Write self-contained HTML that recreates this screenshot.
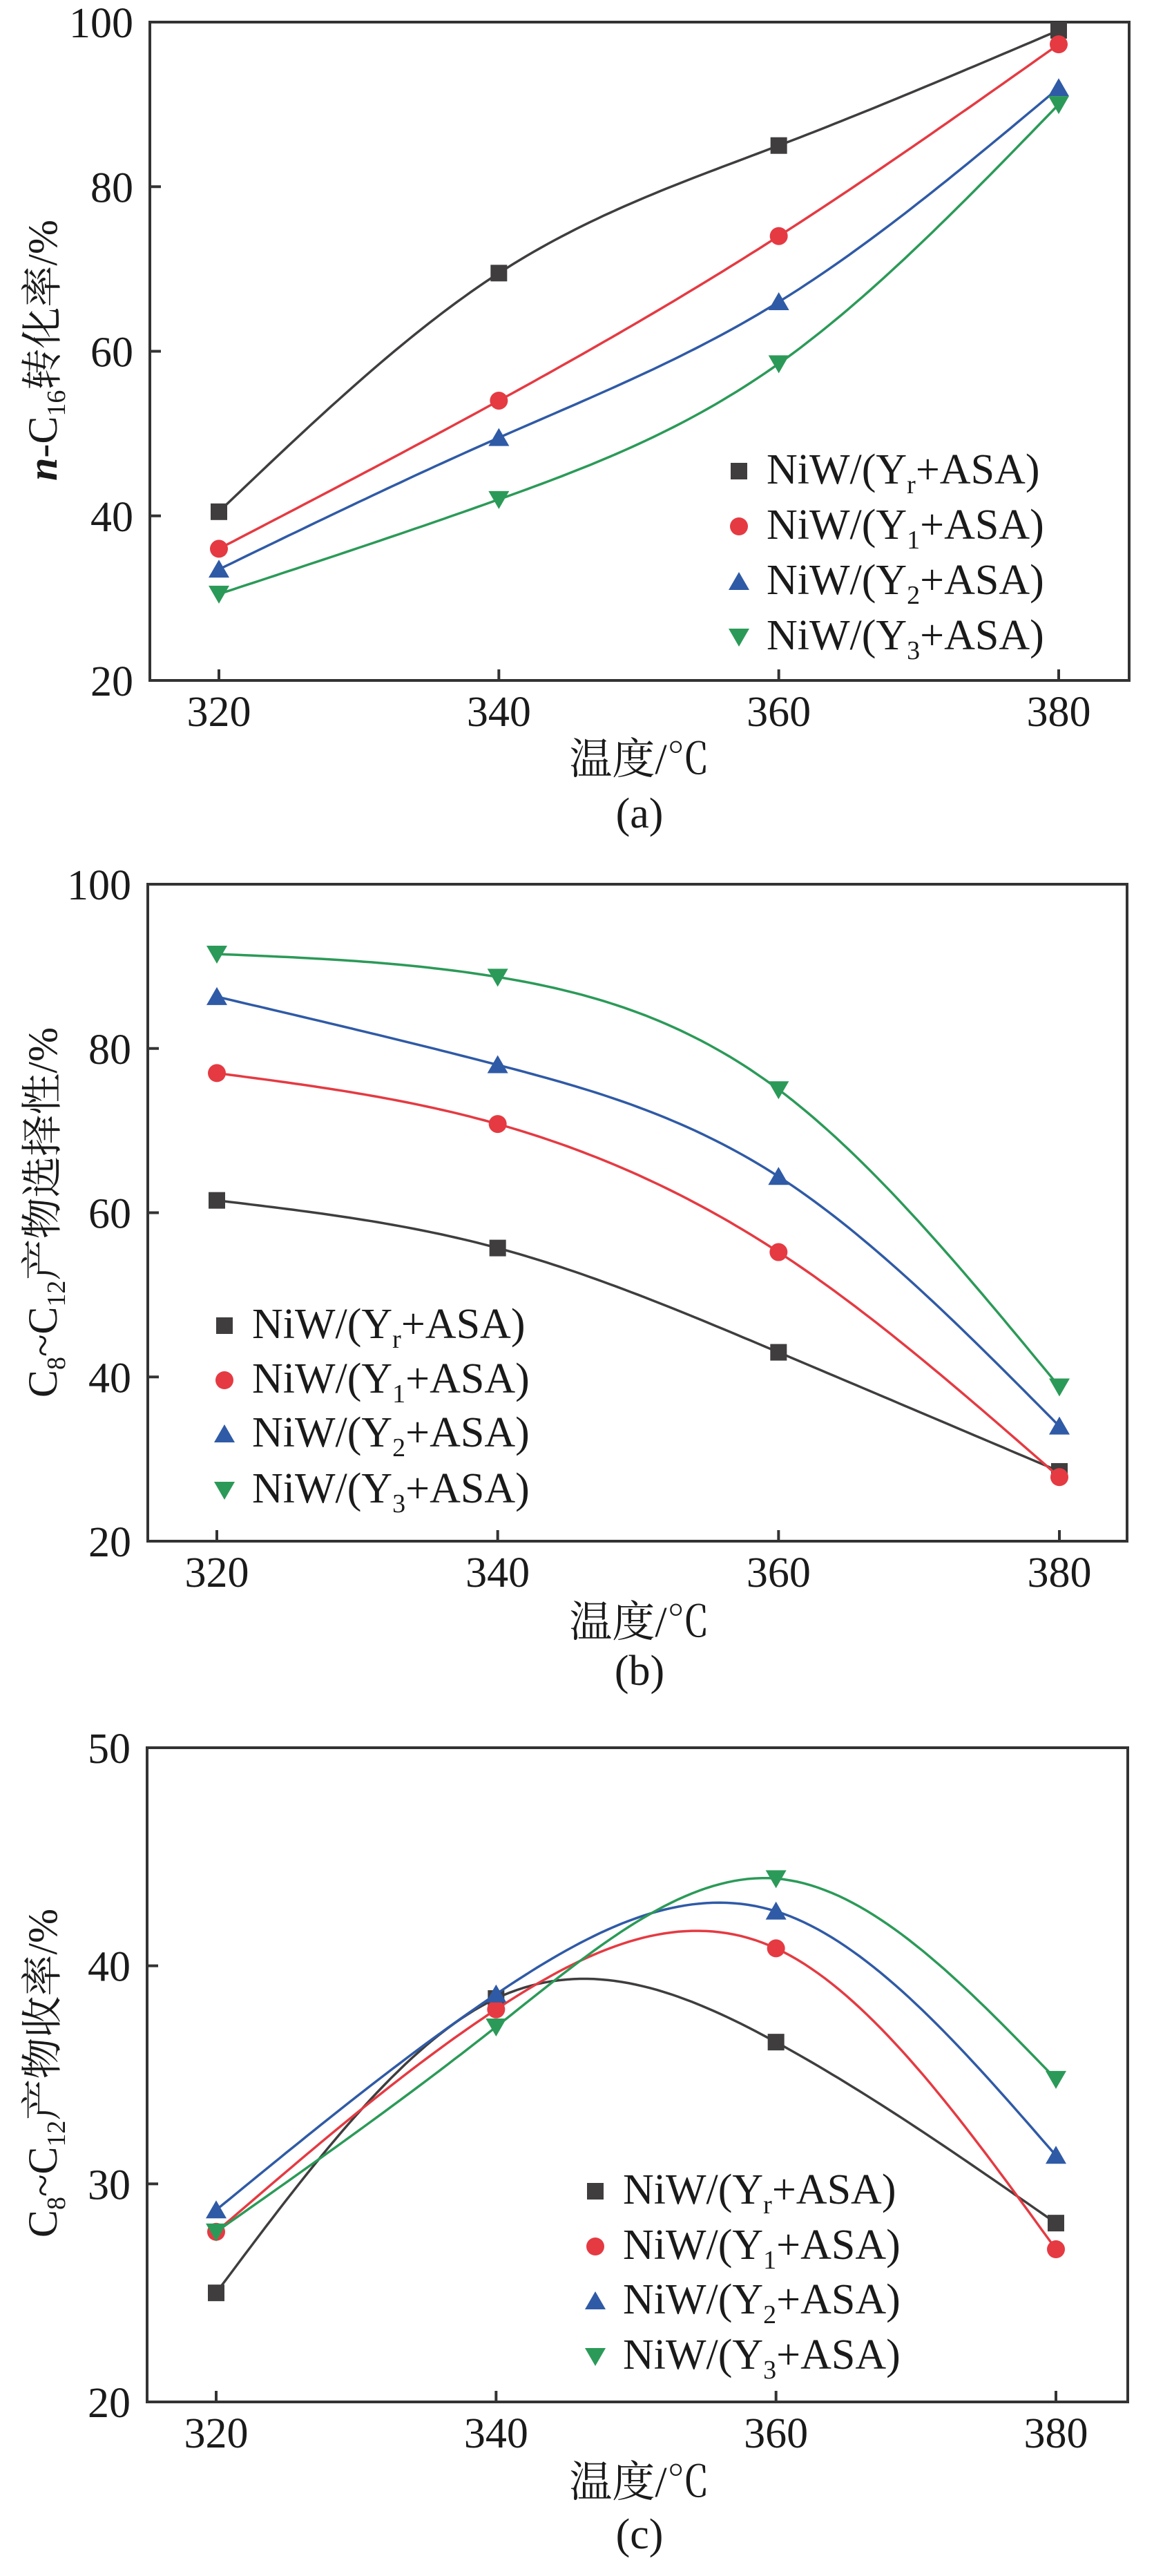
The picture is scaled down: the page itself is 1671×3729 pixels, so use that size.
<!DOCTYPE html>
<html><head><meta charset="utf-8">
<style>
html,body{margin:0;padding:0;background:#fff;}
svg{display:block;}
text{font-family:"Liberation Serif","Noto Serif CJK SC",serif;fill:#1a1a1a;}
</style></head>
<body>
<svg id="fig" width="1671" height="3729" viewBox="0 0 1671 3729" xmlns="http://www.w3.org/2000/svg"></svg>
<script>
const categories = [320, 340, 360, 380];
const seriesNames = ["Yr", "Y1", "Y2", "Y3"];
const seriesSubs = ["r", "1", "2", "3"];
const aYr = [40.5, 69.5, 85, 99];
const aY1 = [36, 54, 74, 97.3];
const aY2 = [33.5, 49.5, 66, 92];
const aY3 = [30.5, 42, 58.5, 90];
const bYr = [61.5, 55.7, 43, 28.5];
const bY1 = [77, 70.8, 55.2, 27.8];
const bY2 = [86.3, 78, 64.4, 34];
const bY3 = [91.5, 88.7, 75, 38.8];
const cYr = [25, 38.5, 36.5, 28.2];
const cY1 = [27.8, 38, 40.8, 27];
const cY2 = [28.8, 38.7, 42.5, 31.3];
const cY3 = [27.8, 37.2, 44, 34.8];
const aTicks = [20, 40, 60, 80, 100];
const bTicks = [20, 40, 60, 80, 100];
const cTicks = [20, 30, 40, 50];

const NS = "http://www.w3.org/2000/svg";
const svg = document.getElementById("fig");
const colors = ["#3f3d3d", "#e53a42", "#2f5aa6", "#2b9a58"];
const shapes = ["square", "circle", "up", "down"];

function mk(tag, attrs, parent) {
  const e = document.createElementNS(NS, tag);
  for (const k in attrs) e.setAttribute(k, attrs[k]);
  (parent || svg).appendChild(e);
  return e;
}

function spline(xs, ys) {
  const n = xs.length, h = [], al = [], l = [1], mu = [0], z = [0], c = new Array(n).fill(0), b = [], d = [];
  for (let i = 0; i < n - 1; i++) h.push(xs[i + 1] - xs[i]);
  for (let i = 1; i < n - 1; i++) al[i] = 3 / h[i] * (ys[i + 1] - ys[i]) - 3 / h[i - 1] * (ys[i] - ys[i - 1]);
  for (let i = 1; i < n - 1; i++) {
    l[i] = 2 * (xs[i + 1] - xs[i - 1]) - h[i - 1] * mu[i - 1];
    mu[i] = h[i] / l[i];
    z[i] = (al[i] - h[i - 1] * z[i - 1]) / l[i];
  }
  z[n - 1] = 0;
  for (let j = n - 2; j >= 0; j--) {
    c[j] = z[j] - mu[j] * c[j + 1];
    b[j] = (ys[j + 1] - ys[j]) / h[j] - h[j] * (c[j + 1] + 2 * c[j]) / 3;
    d[j] = (c[j + 1] - c[j]) / (3 * h[j]);
  }
  return function (x) {
    let j = 0;
    while (j < n - 2 && x > xs[j + 1]) j++;
    const t = x - xs[j];
    return ys[j] + b[j] * t + c[j] * t * t + d[j] * t * t * t;
  };
}

function marker(g, shape, cx, cy, col, name) {
  const s = 12;
  let e;
  if (shape === "square") e = mk("rect", {x: cx - s, y: cy - s, width: 2 * s, height: 2 * s, fill: col}, g);
  else if (shape === "circle") e = mk("circle", {cx: cx, cy: cy, r: s + 1, fill: col}, g);
  else if (shape === "up") e = mk("polygon", {points: `${cx},${cy - s - 2} ${cx + s + 3},${cy + s} ${cx - s - 3},${cy + s}`, fill: col}, g);
  else e = mk("polygon", {points: `${cx - s - 3},${cy - s} ${cx + s + 3},${cy - s} ${cx},${cy + s + 2}`, fill: col}, g);
  
  
}

function panel(cfg) {
  const g = mk("g", {});
  
  
  const X = v => cfg.x320 + (v - 320) / 60 * (cfg.x380 - cfg.x320);
  const Y = v => cfg.bottom - (v - cfg.ymin) / (cfg.ymax - cfg.ymin) * (cfg.bottom - cfg.top);
  const frame = mk("rect", {x: cfg.left, y: cfg.top, width: cfg.right - cfg.left, height: cfg.bottom - cfg.top, fill: "none", stroke: "#333", "stroke-width": 4}, g);
  
  
  categories.forEach(c => {
    const t = mk("line", {x1: X(c), x2: X(c), y1: cfg.bottom, y2: cfg.bottom - 16, stroke: "#333", "stroke-width": 4}, g);
    
    
    const lb = mk("text", {x: X(c), y: cfg.bottom + 66, "font-size": 62, "text-anchor": "middle"}, g);
    lb.textContent = c;
    
    
  });
  cfg.ticks.forEach(v => {
    const t = mk("line", {x1: cfg.left, x2: cfg.left + 16, y1: Y(v), y2: Y(v), stroke: "#333", "stroke-width": 4}, g);
    
    
    const lb = mk("text", {x: cfg.left - 24, y: Y(v) + 22, "font-size": 62, "text-anchor": "end"}, g);
    lb.textContent = v;
    
    
  });
  cfg.series.forEach((ys, i) => {
    const f = spline(categories, ys);
    let d = "";
    for (let x = 320; x <= 380.001; x += 0.5) d += (d ? "L" : "M") + X(x).toFixed(1) + "," + Y(f(x)).toFixed(1);
    const p = mk("path", {d: d, fill: "none", stroke: colors[i], "stroke-width": 3.5}, g);
    
    
    ys.forEach((v, k) => marker(g, shapes[i], X(categories[k]), Y(v), colors[i], 'point-' + seriesNames[i]));
  });
  // legend
  cfg.legY.forEach((ly, i) => {
    const lg = mk("g", {}, g);
    
    
    marker(lg, shapes[i], cfg.legX, ly - 18, colors[i], 'legend-marker');
    const t = mk("text", {x: cfg.legX + 40, y: ly, "font-size": 62}, lg);
    t.innerHTML = 'NiW/(Y<tspan font-size="38" dy="14">' + seriesSubs[i] + '</tspan><tspan dy="-14">+ASA)</tspan>';
  });
  const xt = mk("text", {x: 926, y: cfg.xTitleY, "font-size": 62, "text-anchor": "middle"}, g);
  xt.textContent = "温度/℃";
  
  
  const pl = mk("text", {x: 926, y: cfg.capY, "font-size": 62, "text-anchor": "middle"}, g);
  pl.textContent = cfg.cap;
  
  
  const yt = mk("text", {x: 0, y: 0, "font-size": 60, "text-anchor": "middle", transform: `translate(${cfg.yTitleX},${cfg.yTitleY}) rotate(-90)`}, g);
  yt.innerHTML = cfg.yTitle;
  
  
}

panel({name: "panel-a", left: 217, right: 1635, top: 32, bottom: 985, x320: 317, x380: 1533, ymin: 20, ymax: 100, ticks: aTicks,
  series: [aYr, aY1, aY2, aY3], legX: 1070, legY: [700, 780, 860, 940], xTitleY: 1120, capY: 1198, cap: "(a)",
  yTitleX: 82, yTitleY: 507,
  yTitle: '<tspan font-style="italic" font-weight="bold">n</tspan>-C<tspan font-size="38" dy="12">16</tspan><tspan dy="-12">转化率/%</tspan>'});
panel({name: "panel-b", left: 214, right: 1632, top: 1280, bottom: 2231, x320: 314, x380: 1534, ymin: 20, ymax: 100, ticks: bTicks,
  series: [bYr, bY1, bY2, bY3], legX: 325, legY: [1937, 2016, 2094, 2175], xTitleY: 2369, capY: 2439, cap: "(b)",
  yTitleX: 82, yTitleY: 1755,
  yTitle: 'C<tspan font-size="38" dy="12">8</tspan><tspan dy="-12">~C</tspan><tspan font-size="38" dy="12">12</tspan><tspan dy="-12">产物选择性/%</tspan>'});
panel({name: "panel-c", left: 213, right: 1633, top: 2530, bottom: 3477, x320: 313, x380: 1529, ymin: 20, ymax: 50, ticks: cTicks,
  series: [cYr, cY1, cY2, cY3], legX: 862, legY: [3190, 3270, 3349, 3429], xTitleY: 3614, capY: 3689, cap: "(c)",
  yTitleX: 82, yTitleY: 3001,
  yTitle: 'C<tspan font-size="38" dy="12">8</tspan><tspan dy="-12">~C</tspan><tspan font-size="38" dy="12">12</tspan><tspan dy="-12">产物收率/%</tspan>'});
</script>
</body></html>
